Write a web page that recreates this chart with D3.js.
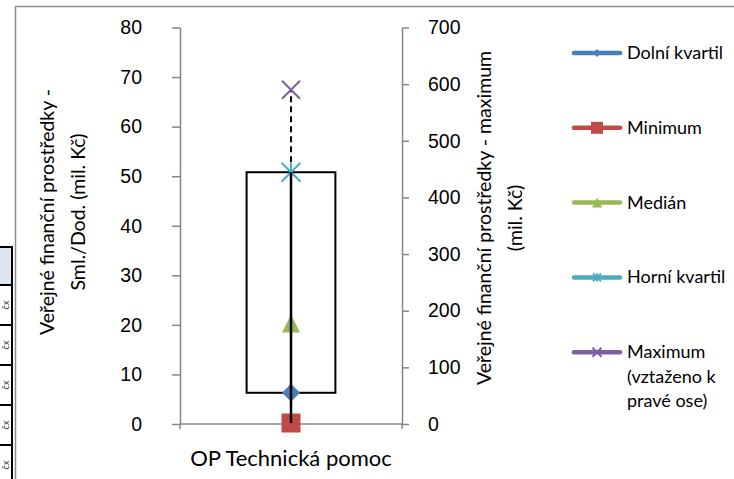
<!DOCTYPE html>
<html>
<head>
<meta charset="utf-8">
<script src="https://cdn.jsdelivr.net/npm/d3@7"></script>
<style>
  html, body { margin: 0; padding: 0; background: #fff; }
  svg { display: block; font-family: Lato, "Noto Sans", sans-serif; }
</style>
</head>
<body>
<svg id="chart" width="734" height="479"></svg>
<script>
// Box plot of public funding for one operational programme
const categories = ["OP Technická pomoc"];
const minimum = [0.2];
const lowerQuartile = [6.3];
const median = [20.3];
const upperQuartile = [50.8];
const maximum = [590];          // plotted against the right axis
const leftTicks = [0, 10, 20, 30, 40, 50, 60, 70, 80];
const rightTicks = [0, 100, 200, 300, 400, 500, 600, 700];
const legendLabels = ["Dolní kvartil", "Minimum", "Medián", "Horní kvartil", "Maximum\n(vztaženo k\npravé ose)"];
const leftTitle = ["Veřejné finanční prostředky -", "Sml./Dod. (mil. Kč)"];
const rightTitle = ["Veřejné finanční prostředky - maximum", "(mil. Kč)"];

const colors = {
  lower: "#4a7ebb", min: "#be4b48", median: "#98b954", upper: "#4bacc6", max: "#7d60a0",
  axis: "#868686"
};

const svg = d3.select("#chart");

// spreadsheet cells peeking out at the left edge
const sheet = svg.append("g");
sheet.append("rect").attr("x", -3).attr("y", 247).attr("width", 15).attr("height", 38)
  .attr("fill", "#dce6f1").attr("stroke", "#000").attr("stroke-width", 2);
[285, 325, 365, 405, 445].forEach(y => {
  sheet.append("rect").attr("x", -3).attr("y", y).attr("width", 15).attr("height", 40)
    .attr("fill", "#fff").attr("stroke", "#000").attr("stroke-width", 2);
  sheet.append("text").attr("transform", `translate(9,${y + 20}) rotate(-90)`)
    .attr("text-anchor", "middle").attr("font-size", 9).attr("fill", "#222").text("čx");
});

// chart area frame
svg.append("rect").attr("x", 15.5).attr("y", 6.5).attr("width", 800).attr("height", 600)
  .attr("fill", "#fff").attr("stroke", "#8c8c8c").attr("stroke-width", 1.5);

const plot = { left: 180, right: 402, top: 27.5, bottom: 424 };

const x = d3.scaleBand().domain(categories).range([plot.left, plot.right])
  .paddingInner(0.6).paddingOuter(0.3);
const yL = d3.scaleLinear().domain([0, 80]).range([plot.bottom, plot.top]);
const yR = d3.scaleLinear().domain([0, 700]).range([plot.bottom, plot.top]);

// axes
const styleAxis = g => {
  g.select(".domain").attr("stroke", colors.axis).attr("stroke-width", 1.5);
  g.selectAll(".tick line").attr("stroke", colors.axis).attr("stroke-width", 1.5);
  g.selectAll(".tick text").attr("fill", "#000").attr("font-size", 19.5);
};

svg.append("g").attr("transform", `translate(${plot.left},0)`)
  .call(d3.axisLeft(yL).tickValues(leftTicks).tickSize(8).tickPadding(30).tickSizeOuter(0))
  .call(styleAxis);

svg.append("g").attr("transform", `translate(${plot.right},0)`)
  .call(d3.axisRight(yR).tickValues(rightTicks).tickSize(7).tickPadding(19).tickSizeOuter(0))
  .call(styleAxis);

const xAxis = svg.append("g").attr("transform", `translate(0,${plot.bottom})`);
xAxis.append("line").attr("x1", plot.left).attr("x2", plot.right)
  .attr("stroke", colors.axis).attr("stroke-width", 1.5);
[plot.left, plot.right].forEach(px => xAxis.append("line")
  .attr("x1", px).attr("x2", px).attr("y1", 0).attr("y2", 5)
  .attr("stroke", colors.axis).attr("stroke-width", 1.5));
xAxis.selectAll("text.cat").data(categories).join("text").attr("class", "cat")
  .attr("x", d => x(d) + x.bandwidth() / 2).attr("y", 42)
  .attr("text-anchor", "middle").attr("font-size", 22).text(d => d);

// axis titles
const title = (lines, cx, cy, gap) => {
  const t = svg.append("text").attr("transform", `translate(${cx},${cy}) rotate(-90)`)
    .attr("text-anchor", "middle").attr("font-size", 19.5);
  lines.forEach((l, i) => t.append("tspan").attr("x", 0).attr("y", i * gap).text(l));
};
title(leftTitle, 54, 212, 31);
title(rightTitle, 491, 218, 31);

// box and whiskers
const g = svg.append("g");
categories.forEach((c, i) => {
  const cx = x(c) + x.bandwidth() / 2;
  g.append("rect").attr("x", x(c)).attr("width", x.bandwidth())
    .attr("y", yL(upperQuartile[i])).attr("height", yL(lowerQuartile[i]) - yL(upperQuartile[i]))
    .attr("fill", "none").attr("stroke", "#000").attr("stroke-width", 2);
  g.append("line").attr("x1", cx).attr("x2", cx)
    .attr("y1", yL(upperQuartile[i])).attr("y2", yR(maximum[i]))
    .attr("stroke", "#000").attr("stroke-width", 2).attr("stroke-dasharray", "6,4");
});

// marker shapes
const marker = (sel, kind, cx, cy, s, color) => {
  const m = sel.append("g").attr("transform", `translate(${cx},${cy})`);
  if (kind === "diamond") {
    m.append("path").attr("d", `M0,${-s/2}L${s/2},0L0,${s/2}L${-s/2},0Z`).attr("fill", color);
  } else if (kind === "square") {
    m.append("rect").attr("x", -s/2).attr("y", -s/2).attr("width", s).attr("height", s).attr("fill", color);
  } else if (kind === "triangle") {
    m.append("path").attr("d", `M0,${-s/2}L${s/2},${s/2}L${-s/2},${s/2}Z`).attr("fill", color);
  } else if (kind === "star") {
    const r = s / 2;
    m.append("path").attr("d", `M${-r},${-r}L${r},${r}M${-r},${r}L${r},${-r}M0,${-r}L0,${r}`)
      .attr("stroke", color).attr("stroke-width", 2).attr("fill", "none");
  } else if (kind === "x") {
    const r = s / 2;
    m.append("path").attr("d", `M${-r},${-r}L${r},${r}M${-r},${r}L${r},${-r}`)
      .attr("stroke", color).attr("stroke-width", 2).attr("fill", "none");
  }
};

categories.forEach((c, i) => {
  const cx = x(c) + x.bandwidth() / 2;
  marker(g, "triangle", cx, yL(median[i]), 18, colors.median);
  marker(g, "diamond", cx, yL(lowerQuartile[i]), 18, colors.lower);
  marker(g, "square", cx, yL(minimum[i]), 19, colors.min);
  marker(g, "star", cx, yL(upperQuartile[i]), 19, colors.upper);
  marker(g, "x", cx, yR(maximum[i]), 18, colors.max);
});
// the whisker line runs on top of the lower markers
categories.forEach((c, i) => {
  const cx = x(c) + x.bandwidth() / 2;
  g.append("line").attr("x1", cx).attr("x2", cx)
    .attr("y1", yL(minimum[i])).attr("y2", yL(upperQuartile[i]))
    .attr("stroke", "#000").attr("stroke-width", 2.5);
});

// legend
const legendKinds = ["diamond", "square", "triangle", "star", "x"];
const legendColors = [colors.lower, colors.min, colors.median, colors.upper, colors.max];
const legendSizes = [8, 12, 10, 8, 9];
const legend = svg.append("g").attr("transform", "translate(572,53)");
legendLabels.forEach((lab, i) => {
  const item = legend.append("g").attr("transform", `translate(0,${i * 74.8})`);
  item.append("line").attr("x1", 2).attr("x2", 48).attr("stroke", legendColors[i])
    .attr("stroke-width", 4.5).attr("stroke-linecap", "round");
  marker(item, legendKinds[i], 25, 0, legendSizes[i], legendColors[i]);
  const t = item.append("text").attr("x", 55).attr("y", 6).attr("font-size", 18);
  lab.split("\n").forEach((l, j) => t.append("tspan").attr("x", 55).attr("dy", j ? 24.5 : 0).text(l));
});
</script>
</body>
</html>
